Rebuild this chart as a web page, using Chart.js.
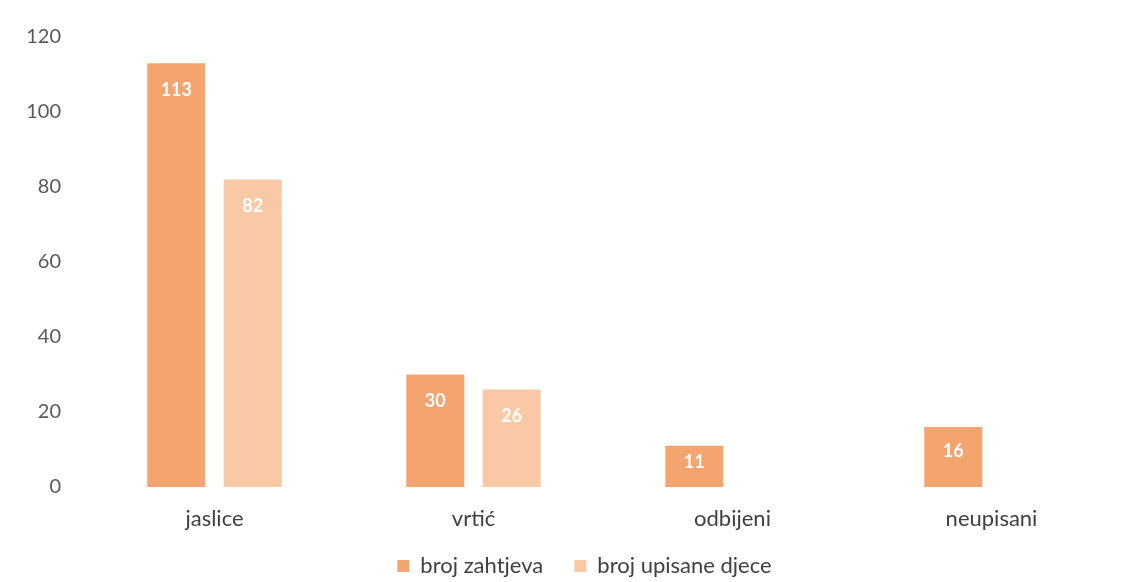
<!DOCTYPE html>
<html>
<head>
<meta charset="utf-8">
<script src="https://cdn.jsdelivr.net/npm/chart.js@4.4.1/dist/chart.umd.min.js"></script>
<style>
  html, body { margin: 0; padding: 0; background: #fff; }
  #wrap { width: 1141px; height: 582px; }
</style>
</head>
<body>
<div id="wrap"><canvas id="chart" width="1141" height="582"></canvas></div>
<script>
var categories = ['jaslice', 'vrtić', 'odbijeni', 'neupisani'];
var zahtjevi = [113, 30, 11, 16];
var upisani = [82, 26, null, null];
var yTicks = [0, 20, 40, 60, 80, 100, 120];

var fontFam = 'Lato, "Open Sans", sans-serif';

// white value labels inside the top of each bar
var barLabels = {
    id: 'barLabels',
    afterDatasetsDraw: function(chart) {
        var ctx = chart.ctx;
        ctx.save();
        ctx.font = 'bold 18px ' + fontFam;
        ctx.fillStyle = '#ffffff';
        ctx.textAlign = 'center';
        ctx.textBaseline = 'middle';
        chart.data.datasets.forEach(function(ds, i) {
            chart.getDatasetMeta(i).data.forEach(function(bar, j) {
                if (ds.data[j] == null) return;
                var h = bar.base - bar.y;
                ctx.fillText(ds.data[j], bar.x, bar.y + Math.min(27, h * 0.4));
            });
        });
        ctx.restore();
    }
};

// legend in the original sits a bit right of centre and lower
var legendShift = {
    id: 'legendShift',
    afterLayout: function(chart) {
        var lg = chart.legend;
        if (!lg) return;
        lg.left += 48;
        lg.top += 5;
        lg.bottom += 5;
    }
};

var context = document.getElementById('chart').getContext('2d');
var chart = new Chart(context, {
    type: 'bar',
    data: {
        labels: categories,
        datasets: [{
            label: 'broj zahtjeva',
            data: zahtjevi,
            backgroundColor: '#F4A46F'
        }, {
            label: 'broj upisane djece',
            data: upisani,
            backgroundColor: '#F9C9A5'
        }]
    },
    options: {
        responsive: false,
        animation: false,
        categoryPercentage: 0.59,
        barPercentage: 0.76,
        layout: { padding: { top: 37, right: 20, left: 0, bottom: 0 } },
        plugins: {
            legend: {
                position: 'bottom',
                labels: {
                    boxWidth: 12,
                    boxHeight: 12,
                    padding: 3,
                    color: '#404040',
                    font: { size: 22, family: fontFam },
                    generateLabels: function(chart) {
                        var items = Chart.defaults.plugins.legend.labels.generateLabels(chart);
                        items.forEach(function(it, i) {
                            if (i < items.length - 1) it.text = it.text + '     ';
                        });
                        return items;
                    }
                }
            },
            tooltip: { enabled: false }
        },
        scales: {
            x: {
                grid: { display: false },
                border: { display: false },
                ticks: {
                    color: '#404040',
                    padding: 11,
                    font: { size: 22, family: fontFam }
                },
                afterFit: function(axis) { axis.height = 60; }
            },
            y: {
                min: 0,
                max: 120,
                grid: { display: false },
                border: { display: false },
                afterBuildTicks: function(axis) {
                    axis.ticks = yTicks.map(function(v) { return { value: v }; });
                },
                ticks: {
                    color: '#595959',
                    padding: 16,
                    font: { size: 20, family: fontFam }
                },
                afterFit: function(axis) { axis.width = 85; }
            }
        }
    },
    plugins: [barLabels, legendShift]
});
</script>
</body>
</html>
